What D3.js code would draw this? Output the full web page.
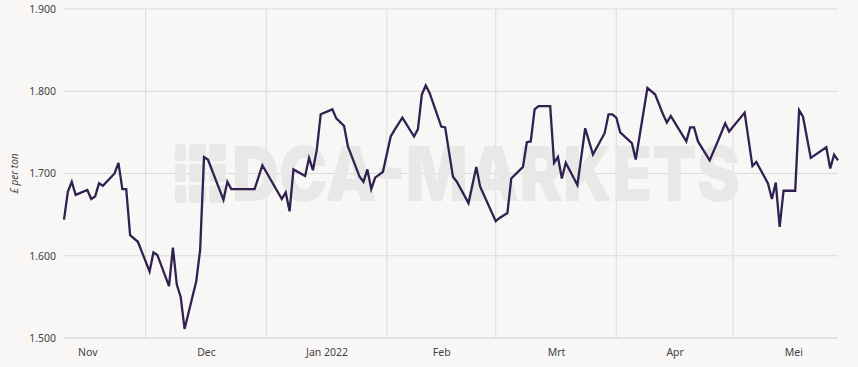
<!DOCTYPE html>
<html>
<head>
<meta charset="utf-8">
<script src="https://cdn.jsdelivr.net/npm/d3@7"></script>
<style>
  body { margin: 0; background: #f8f7f5; }
  svg { display: block; }
  .axis text { font-family: "Noto Sans", sans-serif; font-size: 10.5px; fill: #444; }
</style>
</head>
<body>
<script>
/* global d3 */

var width = 858;
var height = 367;
var margin = {top: 9, right: 20, bottom: 29, left: 64};
var innerW = width - margin.left - margin.right,
        innerH = height - margin.top - margin.bottom;

// price series
var dates = [
    "2021-11-10", "2021-11-11", "2021-11-12", "2021-11-13", "2021-11-16", "2021-11-17", "2021-11-18",
    "2021-11-19", "2021-11-20", "2021-11-23", "2021-11-24", "2021-11-25", "2021-11-26", "2021-11-27",
    "2021-11-29", "2021-12-02", "2021-12-03", "2021-12-04", "2021-12-07", "2021-12-08", "2021-12-09",
    "2021-12-10", "2021-12-11", "2021-12-14", "2021-12-15", "2021-12-16", "2021-12-17", "2021-12-21",
    "2021-12-22", "2021-12-23", "2021-12-29", "2021-12-31", "2022-01-05", "2022-01-06", "2022-01-07",
    "2022-01-08", "2022-01-11", "2022-01-12", "2022-01-13", "2022-01-14", "2022-01-15", "2022-01-18",
    "2022-01-19", "2022-01-21", "2022-01-22", "2022-01-25", "2022-01-26", "2022-01-27", "2022-01-28",
    "2022-01-29", "2022-01-31", "2022-02-02", "2022-02-03", "2022-02-05", "2022-02-08", "2022-02-09",
    "2022-02-10", "2022-02-11", "2022-02-12", "2022-02-15", "2022-02-16", "2022-02-18", "2022-02-19",
    "2022-02-22", "2022-02-24", "2022-02-25", "2022-03-01", "2022-03-02", "2022-03-04", "2022-03-05",
    "2022-03-08", "2022-03-09", "2022-03-10", "2022-03-11", "2022-03-12", "2022-03-15", "2022-03-16",
    "2022-03-17", "2022-03-18", "2022-03-19", "2022-03-22", "2022-03-24", "2022-03-26", "2022-03-29",
    "2022-03-30", "2022-03-31", "2022-04-01", "2022-04-02", "2022-04-05", "2022-04-06", "2022-04-09",
    "2022-04-11", "2022-04-13", "2022-04-14", "2022-04-15", "2022-04-19", "2022-04-20", "2022-04-21",
    "2022-04-22", "2022-04-25", "2022-04-27", "2022-04-29", "2022-04-30", "2022-05-04", "2022-05-06",
    "2022-05-07", "2022-05-10", "2022-05-11", "2022-05-12", "2022-05-13", "2022-05-14", "2022-05-17",
    "2022-05-18", "2022-05-19", "2022-05-21", "2022-05-25", "2022-05-26", "2022-05-27", "2022-05-28"
];
var prices = [
    1644, 1678, 1690, 1674, 1680, 1669, 1672,
    1688, 1685, 1700, 1713, 1681, 1681, 1625,
    1617, 1581, 1604, 1601, 1563, 1610, 1565,
    1550, 1511, 1569, 1607, 1720, 1717, 1668,
    1690, 1681, 1681, 1710, 1669, 1677, 1654,
    1705, 1697, 1719, 1704, 1729, 1772, 1778,
    1767, 1758, 1733, 1696, 1690, 1705, 1681,
    1695, 1702, 1745, 1753, 1768, 1745, 1754,
    1796, 1807, 1798, 1757, 1756, 1696, 1690,
    1664, 1708, 1684, 1642, 1646, 1652, 1694,
    1708, 1738, 1739, 1778, 1782, 1782, 1713,
    1720, 1694, 1713, 1686, 1755, 1723, 1749,
    1772, 1772, 1768, 1750, 1737, 1717, 1804,
    1796, 1772, 1762, 1770, 1739, 1756, 1756,
    1739, 1716, 1738, 1761, 1751, 1774, 1709,
    1714, 1688, 1669, 1689, 1635, 1679, 1679,
    1777, 1769, 1719, 1732, 1706, 1723, 1716
];

var yTicks = [1500, 1600, 1700, 1800, 1900];
var monthStarts = ["2021-11-01", "2021-12-01", "2022-01-01", "2022-02-01", "2022-03-01",
    "2022-04-01", "2022-05-01", "2022-06-01"];
var monthLabels = ["Nov", "Dec", "Jan 2022", "Feb", "Mrt", "Apr", "Mei"];
var yTitle = "£ per ton";

var parseDate = d3.timeParse("%Y-%m-%d");
var data = dates.map(function (d, i) {
    return {date: parseDate(d), value: prices[i]};
});
var starts = monthStarts.map(parseDate);

var x = d3.scaleTime()
        .domain([parseDate("2021-11-10"), parseDate("2022-05-28")])
        .range([0, innerW]);
var y = d3.scaleLinear().domain([1500, 1900]).range([innerH, 0]);

var svg = d3.select("body").append("svg")
        .attr("width", width)
        .attr("height", height);

svg.append("rect")
        .attr("width", width)
        .attr("height", height)
        .attr("fill", "#f8f7f5");

var g = svg.append("g")
        .attr("transform", "translate(" + margin.left + "," + margin.top + ")");

// grid
var dom = x.domain();
g.selectAll(".vgrid")
        .data(starts.filter(function (d) {
            return d > dom[0] && d < dom[1];
        }))
        .enter().append("line")
        .attr("x1", function (d) { return x(d); })
        .attr("x2", function (d) { return x(d); })
        .attr("y1", 0)
        .attr("y2", innerH)
        .attr("stroke", "#dcdbd9")
        .attr("stroke-width", 1);

g.selectAll(".hgrid")
        .data(yTicks)
        .enter().append("line")
        .attr("x1", 0)
        .attr("x2", innerW)
        .attr("y1", function (d) { return y(d); })
        .attr("y2", function (d) { return y(d); })
        .attr("stroke", function (d) { return d === 1500 ? "#cfcecc" : "#dcdbd9"; })
        .attr("stroke-width", 1);

// watermark (behind the line)
var wm = svg.append("g").attr("fill", "#e9e8e6");
var cols = [[175, 11], [189, 17], [209, 17]],
        rows = [[144, 17], [164, 18], [185, 18]];
cols.forEach(function (c) {
    rows.forEach(function (r) {
        wm.append("rect")
                .attr("x", c[0]).attr("y", r[0])
                .attr("width", c[1]).attr("height", r[1])
                .attr("rx", 3);
    });
});
wm.append("text")
        .attr("x", 232)
        .attr("y", 201)
        .attr("textLength", 508)
        .attr("lengthAdjust", "spacingAndGlyphs")
        .style("font-family", "Inter, 'DejaVu Sans', sans-serif")
        .style("font-weight", 900)
        .style("font-size", "76px")
        .text("DCA-MARKETS");

var plot = svg.append("g")
        .attr("transform", "translate(" + margin.left + "," + margin.top + ")");

// axes
var yAxis = d3.axisLeft(y)
        .tickValues(yTicks)
        .tickSize(0)
        .tickPadding(8)
        .tickFormat(function (d) {
            return d3.format(",")(d).replace(",", ".");
        });
plot.append("g").attr("class", "axis").call(yAxis)
        .call(function (s) { s.select(".domain").remove(); });

var mids = starts.slice(0, -1).map(function (d, i) {
    return new Date((d.getTime() + starts[i + 1].getTime()) / 2);
});
var xAxis = d3.axisBottom(x)
        .tickValues(mids)
        .tickSize(0)
        .tickPadding(11)
        .tickFormat(function (d, i) { return monthLabels[i]; });
plot.append("g").attr("class", "axis")
        .attr("transform", "translate(0," + innerH + ")")
        .call(xAxis)
        .call(function (s) { s.select(".domain").remove(); });

svg.append("text")
        .attr("transform", "translate(18," + (margin.top + innerH / 2) + ") rotate(-90)")
        .attr("text-anchor", "middle")
        .style("font-family", "'Noto Sans', sans-serif")
        .style("font-size", "10px")
        .style("font-style", "italic")
        .attr("fill", "#444")
        .text(yTitle);

// line
var line = d3.line()
        .x(function (d) { return x(d.date); })
        .y(function (d) { return y(d.value); });

plot.append("path")
        .datum(data)
        .attr("fill", "none")
        .attr("stroke", "#2d2250")
        .attr("stroke-width", 2.3)
        .attr("d", line);
</script>
</body>
</html>
